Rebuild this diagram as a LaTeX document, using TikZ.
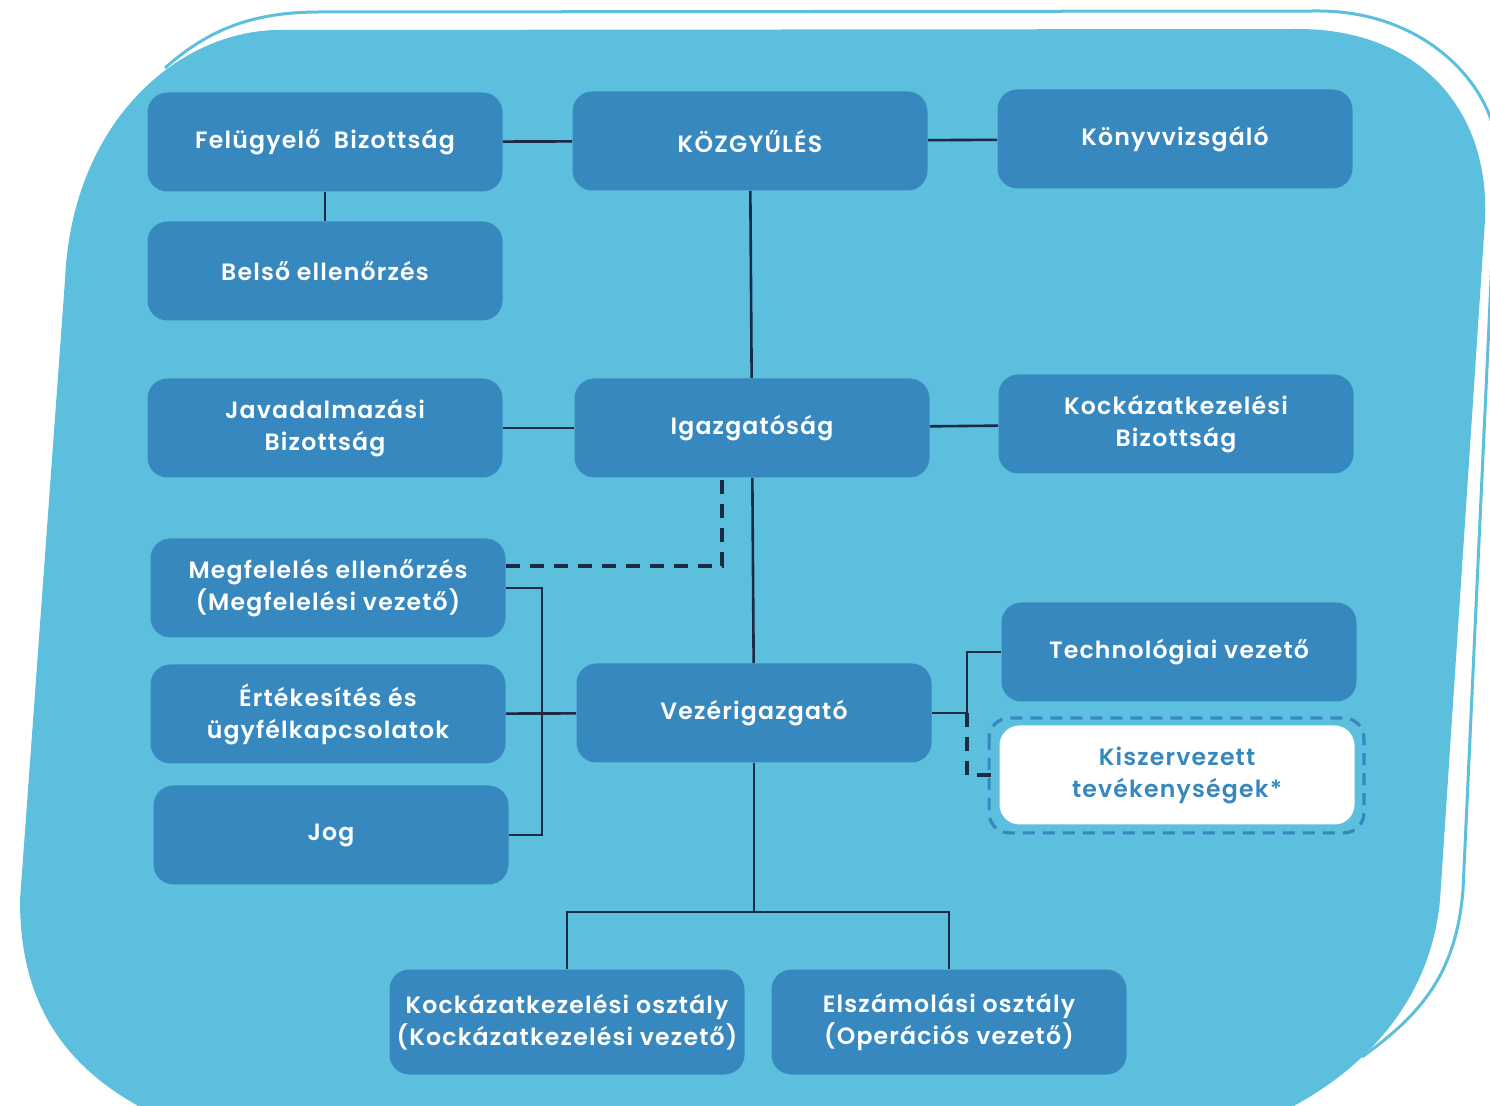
\documentclass[tikz,border=0pt]{standalone}
\usepackage{fontspec}
\setmainfont{Poppins}[BoldFont={* SemiBold}, LetterSpace=5]
\usetikzlibrary{positioning}

\definecolor{hatter}{HTML}{5CBFDE}
\definecolor{doboz}{HTML}{3688BE}
\definecolor{vonal}{HTML}{1D2945}

\tikzset{
  egyseg/.style={rectangle, rounded corners=10pt, fill=doboz, text=white,
    minimum width=177.5pt, minimum height=49.5pt, align=center,
    font=\bfseries\fontsize{11.8}{16}\selectfont},
  kiszdoboz/.style={egyseg, fill=white, text=doboz},
  kapcs/.style={draw=vonal, line width=1.3pt},
  szagg/.style={draw=vonal, line width=1.9pt, dash pattern=on 7pt off 5pt},
}

\begin{document}
\begin{tikzpicture}[x=0.5pt,y=-0.5pt]
\useasboundingbox (0,0) rectangle (1490,1106);

% hatter
\begin{scope}
\clip (0,0) rectangle (1490,1106);
\fill[hatter] (280,30) -- (1300,29) .. controls (1420,30) and (1490,110) .. (1485,220)
  -- (1440,900) .. controls (1430,1010) and (1350,1090) .. (1240,1130)
  -- (190,1130) .. controls (60,1080) and (20,1000) .. (20,900)
  -- (65,280) .. controls (72,120) and (180,30) .. (280,30) -- cycle;
\draw[hatter, line width=1.5pt] (165,68) .. controls (210,28) and (255,12) .. (320,12)
  -- (1320,11) .. controls (1430,12) and (1495,90) .. (1497,150)
  -- (1463,890) .. controls (1456,975) and (1420,1015) .. (1362,1057);
\end{scope}

% dobozok
\node[egyseg] (fb) at (325,142) {Felügyelő\ \ Bizottság};
\node[egyseg] (kgy) at (750,141) {KÖZGYŰLÉS};
\node[egyseg] (kv) at (1175,139) {Könyvvizsgáló};
\node[egyseg] (be) at (325,271) {Belső ellenőrzés};
\node[egyseg] (jb) at (325,428) {Javadalmazási\\Bizottság};
\node[egyseg] (ig) at (752,428) {Igazgatóság};
\node[egyseg] (kb) at (1176,424) {Kockázatkezelési\\Bizottság};
\node[egyseg] (mf) at (328,588) {Megfelelés ellenőrzés\\(Megfelelési vezető)};
\node[egyseg] (ert) at (328,714) {Értékesítés és\\ügyfélkapcsolatok};
\node[egyseg] (jog) at (331,835) {Jog};
\node[egyseg] (vig) at (754,713) {Vezérigazgató};
\node[egyseg] (tech) at (1179,652) {Technológiai vezető};
\node[kiszdoboz] (kisz) at (1177,775) {Kiszervezett\\tevékenységek*};
\node[egyseg, minimum height=52.5pt] (ko) at (567,1022) {Kockázatkezelési osztály\\(Kockázatkezelési vezető)};
\node[egyseg, minimum height=52.5pt] (eo) at (949,1022) {Elszámolási osztály\\(Operációs vezető)};

\draw[doboz, line width=1.6pt, dash pattern=on 6pt off 4pt, rounded corners=10pt]
  ([shift={(-10,-7)}]kisz.north west) rectangle ([shift={(9,8)}]kisz.south east);

% kapcsolatok
\coordinate (mfd) at (506,566);
\coordinate (igd) at (722,478);
\coordinate (jobb) at (542,713);
\coordinate (vr) at (967,713);
\coordinate (vb) at (754,912);

\draw[kapcs] (fb) -- (kgy);
\draw[kapcs] (kgy) -- (kv);
\draw[kapcs] (fb) -- (be);
\draw[kapcs] (kgy) -- (ig);
\draw[kapcs] (jb) -- (ig);
\draw[kapcs] (ig) -- (kb);
\draw[kapcs] (ig) -- (vig);
\draw[kapcs] (ert) -- (vig);
\draw[kapcs] (mf.east) -| (jobb) |- (jog.east);
\draw[szagg] (mfd) -| (igd);
\draw[kapcs] (vig.east) -- (vr);
\draw[kapcs] (tech.west) -| (vr);
\draw[szagg] (vr) |- (kisz.west);
\draw[kapcs] (vig.south) -- (vb);
\draw[kapcs] (ko.north) |- (vb) -| (eo.north);
\end{tikzpicture}
\end{document}
